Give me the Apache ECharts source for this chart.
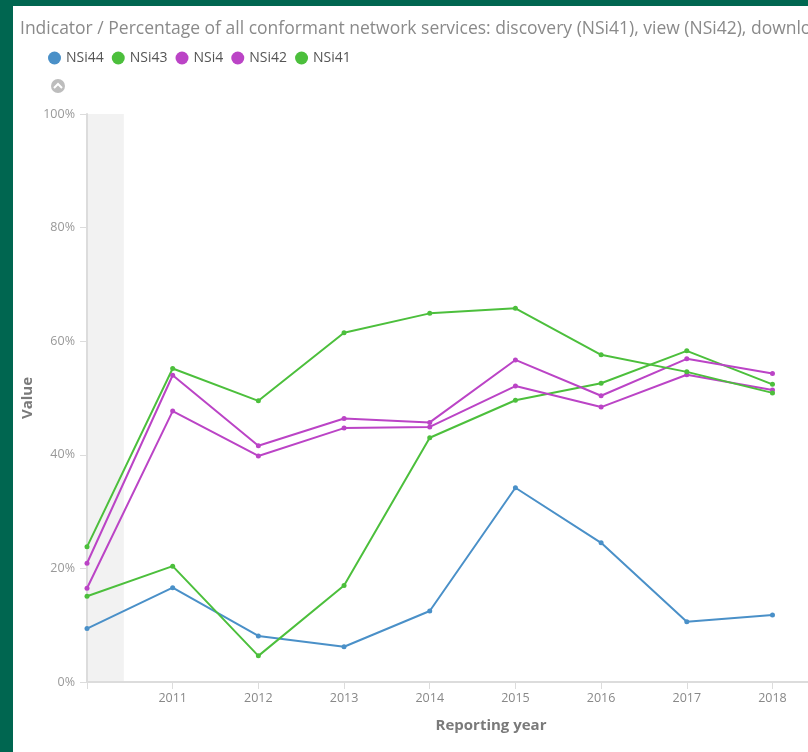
<!DOCTYPE html>
<html>
<head>
<meta charset="utf-8">
<script src="https://cdn.jsdelivr.net/npm/echarts@6/dist/echarts.min.js"></script>
<style>
html,body{margin:0;padding:0;width:808px;height:752px;overflow:hidden;background:#006650;}
#chart{position:absolute;left:13px;top:6px;width:960px;height:746px;background:#ffffff;}
</style>
</head>
<body>
<div id="chart"></div>
<script>
const years = [2010, 2011, 2012, 2013, 2014, 2015, 2016, 2017, 2018];
const NSi44 = [9.4, 16.6, 8.1, 6.2, 12.5, 34.2, 24.5, 10.6, 11.8];
const NSi43 = [15.1, 20.4, 4.6, 17.0, 43.0, 49.6, 52.6, 58.3, 52.4];
const NSi4  = [16.5, 47.7, 39.8, 44.7, 44.9, 52.1, 48.4, 54.1, 51.4];
const NSi42 = [20.9, 54.0, 41.6, 46.4, 45.7, 56.7, 50.4, 56.9, 54.3];
const NSi41 = [23.8, 55.2, 49.5, 61.5, 64.9, 65.8, 57.6, 54.6, 50.9];
const yTicks = [0, 20, 40, 60, 80, 100];
const titleText = 'Indicator / Percentage of all conformant network services: discovery (NSi41), view (NSi42), download (NSi43), transformation (NSi44)';

const BLUE = '#4a90c8', GREEN = '#4cbf3c', PURPLE = '#bb44c6';
const seriesDefs = [
  {name: 'NSi44', data: NSi44, color: BLUE},
  {name: 'NSi43', data: NSi43, color: GREEN},
  {name: 'NSi4', data: NSi4, color: PURPLE},
  {name: 'NSi42', data: NSi42, color: PURPLE},
  {name: 'NSi41', data: NSi41, color: GREEN}
];
const font = '"Open Sans", "Noto Sans", sans-serif';

const chart = echarts.init(document.getElementById('chart'), null, {renderer: 'canvas'});
const series = seriesDefs.map((s, i) => ({
  name: s.name,
  type: 'line',
  data: years.map((y, k) => [y, s.data[k]]),
  symbol: 'circle',
  symbolSize: 5,
  showSymbol: true,
  lineStyle: {width: 2, color: s.color},
  itemStyle: {color: s.color},
  z: 3,
  animation: false,
  markArea: i === 0 ? {
    silent: true,
    itemStyle: {color: '#f2f2f2'},
    data: [[{xAxis: 2010, yAxis: 0}, {xAxis: 2010.43, yAxis: 100}]],
    z: 0
  } : undefined
}));

chart.setOption({
  animation: false,
  title: {
    text: titleText,
    left: 2, top: 9,
    textStyle: {fontFamily: font, fontSize: 17.5, fontWeight: 'normal', color: '#8a8a8a'}
  },
  legend: {
    left: 30, top: 40,
    icon: 'circle',
    itemWidth: 13, itemHeight: 13,
    itemGap: 8,
    textStyle: {fontFamily: font, fontSize: 14, color: '#555'},
    data: seriesDefs.map(s => s.name)
  },
  graphic: [
    {type: 'circle', shape: {cx: 45, cy: 80, r: 7}, style: {fill: '#bdbdbd'}},
    {type: 'polyline', shape: {points: [[41, 82], [45, 78], [49, 82]]}, style: {stroke: '#fff', lineWidth: 2, fill: null}}
  ],
  grid: {left: 74, top: 108, width: 808, height: 568, containLabel: false, outerBoundsMode: 'none'},
  xAxis: {
    type: 'value',
    min: 2010, max: 2019.43, interval: 1,
    name: 'Reporting year',
    nameLocation: 'middle',
    nameGap: 36,
    nameMoveOverlap: false,
    nameTextStyle: {fontFamily: font, fontSize: 15, fontWeight: 'bold', color: '#7a7a7a'},
    axisLine: {show: true, lineStyle: {color: '#dcdcdc', width: 2}},
    axisTick: {show: true, length: 7, lineStyle: {color: '#dcdcdc'}},
    axisLabel: {
      fontFamily: font, fontSize: 12.5, color: '#888', margin: 10,
      showMaxLabel: false,
      formatter: v => (v === 2010 || v % 1 !== 0) ? '' : String(v)
    },
    splitLine: {show: false}
  },
  yAxis: {
    type: 'value',
    min: 0, max: 100, interval: 20,
    name: 'Value',
    nameLocation: 'middle',
    nameGap: 59,
    nameRotate: 90,
    nameMoveOverlap: false,
    nameTextStyle: {fontFamily: font, fontSize: 15, fontWeight: 'bold', color: '#7a7a7a', verticalAlign: 'middle'},
    axisLine: {show: true, lineStyle: {color: '#dcdcdc', width: 2}},
    axisTick: {show: true, length: 7, lineStyle: {color: '#dcdcdc'}},
    axisLabel: {fontFamily: font, fontSize: 12.5, color: '#999', margin: 12, formatter: '{value}%'},
    splitLine: {show: false}
  },
  series: series
});
</script>
</body>
</html>
